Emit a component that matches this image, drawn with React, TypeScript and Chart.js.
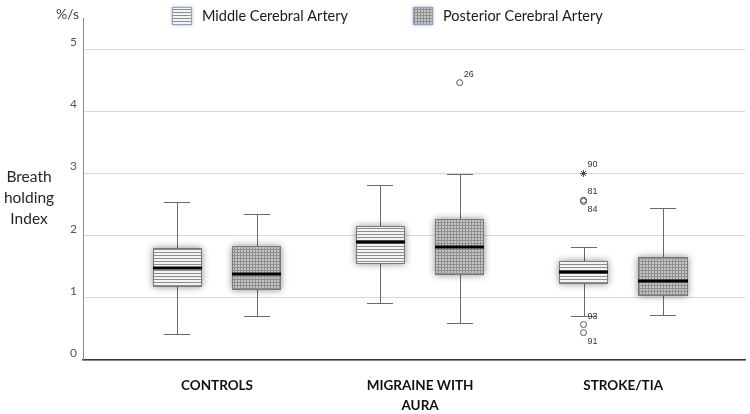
import React, { useEffect, useRef } from 'react';
import { Chart, registerables } from 'chart.js';

Chart.register(...registerables);

// ---------------- data ----------------
const categories: string[][] = [['CONTROLS'], ['MIGRAINE WITH', 'AURA'], ['STROKE/TIA']];
const seriesNames = ['Middle Cerebral Artery', 'Posterior Cerebral Artery'];
const yTickValues = [0, 1, 2, 3, 4, 5];
const yUnit = '%/s';
const yTitle = ['Breath', 'holding', 'Index'];

// Middle Cerebral Artery box statistics
const mcaLow = [0.42, 0.92, 0.71];
const mcaQ1 = [1.18, 1.54, 1.23];
const mcaMedian = [1.48, 1.9, 1.41];
const mcaQ3 = [1.8, 2.15, 1.59];
const mcaHigh = [2.54, 2.81, 1.81];

// Posterior Cerebral Artery box statistics
const pcaLow = [0.71, 0.59, 0.73];
const pcaQ1 = [1.13, 1.36, 1.03];
const pcaMedian = [1.39, 1.81, 1.27];
const pcaQ3 = [1.83, 2.27, 1.66];
const pcaHigh = [2.34, 2.99, 2.44];

// outliers (category index, value, case id)
const mcaOutlierCat = [2, 2, 2, 2];
const mcaOutlierVal = [2.57, 2.55, 0.57, 0.44];
const mcaOutlierId = ['81', '84', '93', '91'];
const mcaOutlierSide = [-1, 1, -1, 1];

const mcaExtremeCat = [2];
const mcaExtremeVal = [3.0];
const mcaExtremeId = ['90'];
const mcaExtremeSide = [-1];

const pcaOutlierCat = [1];
const pcaOutlierVal = [4.46];
const pcaOutlierId = ['26'];
const pcaOutlierSide = [-1];

// ---------------- layout constants ----------------
const X_MIN = 0.34;
const X_MAX = 3.6;
const SERIES_OFFSET = 0.195;
const BOX_HALF = 0.122;
const CAP_HALF = 0.064;
const FONT = 'Lato, "Open Sans", sans-serif';

function makeStripePattern(): CanvasPattern | string {
  const c = document.createElement('canvas');
  c.width = 4;
  c.height = 3;
  const g = c.getContext('2d');
  if (!g) return '#ccc';
  g.fillStyle = '#f3f3f3';
  g.fillRect(0, 0, 4, 3);
  g.fillStyle = '#8c8c8c';
  g.fillRect(0, 0, 4, 1);
  return g.createPattern(c, 'repeat') || '#ccc';
}

function makeDotPattern(): CanvasPattern | string {
  const c = document.createElement('canvas');
  c.width = 3;
  c.height = 3;
  const g = c.getContext('2d');
  if (!g) return '#aaa';
  g.fillStyle = '#c6c6c6';
  g.fillRect(0, 0, 3, 3);
  g.fillStyle = '#8e8e8e';
  g.fillRect(0, 0, 3, 1);
  g.fillRect(0, 0, 1, 3);
  return g.createPattern(c, 'repeat') || '#aaa';
}

export default function App() {
  const ref = useRef<HTMLCanvasElement | null>(null);

  useEffect(() => {
    const canvas = ref.current;
    if (!canvas) return;
    const stripe = makeStripePattern();
    const dots = makeDotPattern();

    const series = [
      { low: mcaLow, q1: mcaQ1, med: mcaMedian, q3: mcaQ3, high: mcaHigh, off: -SERIES_OFFSET, fill: stripe },
      { low: pcaLow, q1: pcaQ1, med: pcaMedian, q3: pcaQ3, high: pcaHigh, off: SERIES_OFFSET, fill: dots },
    ];

    const outlierLabels = [
      { ids: mcaOutlierId, side: mcaOutlierSide },
      { ids: mcaExtremeId, side: mcaExtremeSide },
      { ids: pcaOutlierId, side: pcaOutlierSide },
    ];

    const boxPlugin = {
      id: 'boxplots',
      beforeDatasetsDraw(chart: any) {
        const { ctx } = chart;
        const x = chart.scales.x;
        const y = chart.scales.y;
        series.forEach((s) => {
          categories.forEach((_, i) => {
            const pos = i + 1 + s.off;
            const cx = Math.round(x.getPixelForValue(pos)) + 0.5;
            const left = Math.round(x.getPixelForValue(pos - BOX_HALF));
            const right = Math.round(x.getPixelForValue(pos + BOX_HALF));
            const capL = Math.round(x.getPixelForValue(pos - CAP_HALF));
            const capR = Math.round(x.getPixelForValue(pos + CAP_HALF));
            const yLow = Math.round(y.getPixelForValue(s.low[i])) + 0.5;
            const yHigh = Math.round(y.getPixelForValue(s.high[i])) + 0.5;
            const yQ1 = Math.round(y.getPixelForValue(s.q1[i]));
            const yQ3 = Math.round(y.getPixelForValue(s.q3[i]));
            const yMed = Math.round(y.getPixelForValue(s.med[i]));

            ctx.save();
            ctx.strokeStyle = '#6a6a6a';
            ctx.lineWidth = 1;
            ctx.beginPath();
            ctx.moveTo(cx, yHigh);
            ctx.lineTo(cx, yQ3);
            ctx.moveTo(cx, yQ1);
            ctx.lineTo(cx, yLow);
            ctx.moveTo(capL, yHigh);
            ctx.lineTo(capR, yHigh);
            ctx.moveTo(capL, yLow);
            ctx.lineTo(capR, yLow);
            ctx.stroke();

            // glow
            ctx.shadowColor = 'rgba(0,0,0,0.45)';
            ctx.shadowBlur = 7;
            ctx.fillStyle = '#bdbdbd';
            ctx.fillRect(left, yQ3, right - left, yQ1 - yQ3);
            ctx.shadowColor = 'rgba(0,0,0,0)';
            ctx.shadowBlur = 0;

            ctx.fillStyle = s.fill;
            ctx.fillRect(left, yQ3, right - left, yQ1 - yQ3);
            ctx.strokeStyle = '#7a7a7a';
            ctx.lineWidth = 1;
            ctx.strokeRect(left + 0.5, yQ3 + 0.5, right - left - 1, yQ1 - yQ3 - 1);

            ctx.strokeStyle = '#000';
            ctx.lineWidth = 3;
            ctx.beginPath();
            ctx.moveTo(left, yMed);
            ctx.lineTo(right, yMed);
            ctx.stroke();
            ctx.restore();
          });
        });
      },
      afterDatasetsDraw(chart: any) {
        const { ctx } = chart;
        ctx.save();
        ctx.font = '9px "Liberation Sans", Arial, sans-serif';
        ctx.fillStyle = '#333';
        ctx.textAlign = 'left';
        ctx.textBaseline = 'middle';
        outlierLabels.forEach((ol, di) => {
          const meta = chart.getDatasetMeta(di);
          meta.data.forEach((pt: any, j: number) => {
            ctx.fillText(ol.ids[j], pt.x + 4, pt.y + ol.side[j] * 8.5);
          });
        });
        ctx.restore();
      },
      afterDraw(chart: any) {
        const { ctx } = chart;
        ctx.save();
        // unit label
        ctx.fillStyle = '#404040';
        ctx.font = `14px ${FONT}`;
        ctx.textAlign = 'right';
        ctx.textBaseline = 'middle';
        ctx.fillText(yUnit, 79, 14);
        // y title
        ctx.fillStyle = '#262626';
        ctx.font = `15.5px ${FONT}`;
        ctx.textAlign = 'center';
        yTitle.forEach((t, i) => ctx.fillText(t, 29, 177 + i * 21));
        // legend
        const items = [
          { x: 172, textX: 202, fill: stripe, name: seriesNames[0] },
          { x: 413, textX: 443, fill: dots, name: seriesNames[1] },
        ];
        items.forEach((it) => {
          ctx.save();
          ctx.shadowColor = 'rgba(90,120,170,0.6)';
          ctx.shadowBlur = 3;
          ctx.fillStyle = '#ccc';
          ctx.fillRect(it.x, 7, 20, 18);
          ctx.restore();
          ctx.fillStyle = it.fill;
          ctx.fillRect(it.x, 7, 20, 18);
          ctx.strokeStyle = 'rgba(140,160,190,0.9)';
          ctx.lineWidth = 1;
          ctx.strokeRect(it.x + 0.5, 7.5, 19, 17);
          ctx.fillStyle = '#1a1a1a';
          ctx.font = `14.5px ${FONT}`;
          ctx.textAlign = 'left';
          ctx.textBaseline = 'middle';
          ctx.fillText(it.name, it.textX, 16);
        });
        ctx.restore();
      },
    };

    const mkPoints = (cats: number[], vals: number[], off: number) =>
      cats.map((c, i) => ({ x: c + 1 + off, y: vals[i] }));

    const chart = new Chart(canvas, {
      type: 'scatter',
      data: {
        datasets: [
          {
            label: seriesNames[0] + ' outliers',
            data: mkPoints(mcaOutlierCat, mcaOutlierVal, -SERIES_OFFSET),
            pointStyle: 'circle',
            pointRadius: 3,
            borderColor: '#555',
            backgroundColor: 'rgba(255,255,255,0)',
            borderWidth: 1,
          },
          {
            label: seriesNames[0] + ' extremes',
            data: mkPoints(mcaExtremeCat, mcaExtremeVal, -SERIES_OFFSET),
            pointStyle: 'star',
            pointRadius: 3.5,
            borderColor: '#444',
            backgroundColor: 'rgba(255,255,255,0)',
            borderWidth: 1,
          },
          {
            label: seriesNames[1] + ' outliers',
            data: mkPoints(pcaOutlierCat, pcaOutlierVal, SERIES_OFFSET),
            pointStyle: 'circle',
            pointRadius: 3,
            borderColor: '#555',
            backgroundColor: 'rgba(255,255,255,0)',
            borderWidth: 1,
          },
        ],
      },
      options: {
        animation: false,
        responsive: false,
        events: [],
        layout: { padding: { top: 18, left: 0, right: 0, bottom: 0 } },
        plugins: { legend: { display: false }, tooltip: { enabled: false } },
        scales: {
          x: {
            type: 'linear',
            min: X_MIN,
            max: X_MAX,
            afterBuildTicks: (s: any) => {
              s.ticks = categories.map((_, i) => ({ value: i + 1 }));
            },
            afterFit: (s: any) => {
              s.height = 54;
            },
            grid: { display: false, drawTicks: false },
            border: { display: true, color: '#3a3a3a', width: 1.5 },
            ticks: {
              padding: 16,
              autoSkip: false,
              maxRotation: 0,
              minRotation: 0,
              color: '#111',
              font: { family: FONT, size: 13.5, weight: 'bold', lineHeight: 1.45 },
              callback: (v: any) => categories[Math.round(Number(v)) - 1] || '',
            },
          },
          y: {
            min: 0,
            max: 5.5,
            afterBuildTicks: (s: any) => {
              s.ticks = yTickValues.map((v) => ({ value: v }));
            },
            afterFit: (s: any) => {
              s.width = 83;
            },
            grid: { color: '#d9d9d9', drawTicks: false, lineWidth: 1 },
            border: { display: true, color: '#8a8a8a', width: 1 },
            ticks: {
              padding: 6,
              labelOffset: -7,
              color: '#555',
              font: { family: FONT, size: 12 },
            },
          },
        },
      },
      plugins: [boxPlugin],
    } as any);

    return () => chart.destroy();
  }, []);

  return (
    <div style={{ position: 'fixed', left: 0, top: 0, width: 750, height: 414, background: '#fff' }}>
      <canvas ref={ref} width={750} height={414} style={{ display: 'block' }} />
    </div>
  );
}
